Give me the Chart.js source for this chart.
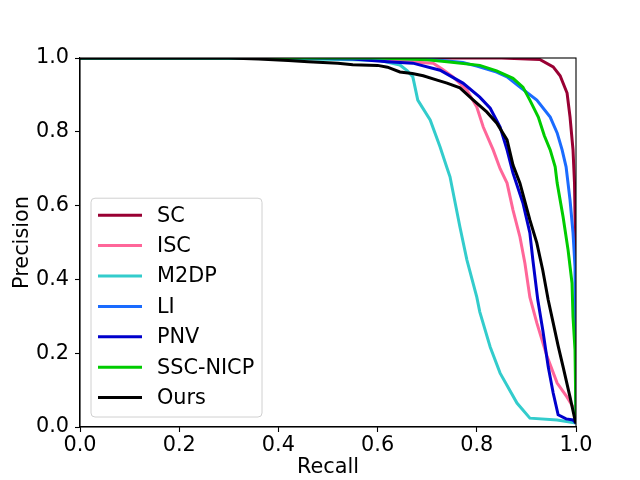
<!DOCTYPE html>
<html>
<head>
<meta charset="utf-8">
<script src="https://cdn.jsdelivr.net/npm/chart.js@4.4.1/dist/chart.umd.min.js"></script>
<style>
  html, body { margin: 0; padding: 0; background: #fff; }
</style>
</head>
<body>
<canvas id="pr-chart" width="640" height="480"></canvas>
<script>
// ── Data ─────────────────────────────────────────────────────────
const seriesNames  = ['SC', 'ISC', 'M2DP', 'LI', 'PNV', 'SSC-NICP', 'Ours'];
const seriesColors = ['#990033', '#ff6699', '#33cccc', '#1a6bff', '#0000cc', '#00cc00', '#000000'];
const tickValues   = [0, 0.2, 0.4, 0.6, 0.8, 1.0];

const scRecall      = [0, 0.85, 0.927, 0.954, 0.968, 0.982, 0.988, 0.992, 0.994, 0.997, 0.999, 1.0];
const scPrecision   = [1, 1.0, 0.996, 0.976, 0.952, 0.905, 0.84, 0.78, 0.751, 0.661, 0.5, 0.02];

const iscRecall     = [0, 0.5, 0.6, 0.66, 0.712, 0.73, 0.752, 0.78, 0.80, 0.813, 0.833, 0.847, 0.861, 0.873, 0.887, 0.897, 0.907, 0.921, 0.942, 0.962, 0.982, 0.994, 1.0];
const iscPrecision  = [1, 1.0, 0.995, 0.99, 0.986, 0.97, 0.949, 0.913, 0.867, 0.813, 0.751, 0.70, 0.661, 0.588, 0.515, 0.444, 0.352, 0.282, 0.19, 0.119, 0.081, 0.054, 0.03];

const m2dpRecall    = [0, 0.35, 0.45, 0.55, 0.605, 0.645, 0.66, 0.671, 0.681, 0.706, 0.726, 0.74, 0.746, 0.766, 0.78, 0.80, 0.806, 0.827, 0.847, 0.881, 0.907, 0.962, 1.0];
const m2dpPrecision = [1, 1.0, 0.997, 0.995, 0.993, 0.981, 0.965, 0.949, 0.886, 0.832, 0.759, 0.702, 0.678, 0.542, 0.453, 0.352, 0.312, 0.217, 0.146, 0.065, 0.024, 0.019, 0.011];

const liRecall      = [0, 0.6, 0.7, 0.772, 0.80, 0.84, 0.861, 0.887, 0.921, 0.948, 0.962, 0.972, 0.98, 0.988, 0.994, 0.998, 0.999, 1.0];
const liPrecision   = [1, 1.0, 0.997, 0.988, 0.978, 0.962, 0.949, 0.921, 0.886, 0.84, 0.797, 0.751, 0.705, 0.615, 0.526, 0.434, 0.25, 0.02];

const pnvRecall     = [0, 0.45, 0.55, 0.62, 0.671, 0.726, 0.772, 0.806, 0.827, 0.847, 0.861, 0.873, 0.893, 0.907, 0.913, 0.923, 0.933, 0.944, 0.954, 0.964, 0.98, 0.994, 1.0];
const pnvPrecision  = [1, 1.0, 0.997, 0.99, 0.986, 0.967, 0.932, 0.894, 0.864, 0.813, 0.751, 0.688, 0.607, 0.526, 0.453, 0.344, 0.263, 0.163, 0.092, 0.033, 0.022, 0.019, 0.01];

const sscRecall     = [0, 0.6, 0.7, 0.74, 0.806, 0.84, 0.873, 0.893, 0.907, 0.924, 0.936, 0.948, 0.958, 0.962, 0.974, 0.984, 0.992, 0.994, 0.998, 1.0];
const sscPrecision  = [1, 1.0, 0.995, 0.99, 0.98, 0.965, 0.945, 0.921, 0.886, 0.84, 0.79, 0.751, 0.705, 0.661, 0.569, 0.48, 0.39, 0.298, 0.209, 0.02];

const oursRecall    = [0, 0.30, 0.36, 0.42, 0.46, 0.52, 0.55, 0.60, 0.62, 0.645, 0.67, 0.692, 0.72, 0.74, 0.766, 0.793, 0.82, 0.84, 0.861, 0.873, 0.887, 0.907, 0.921, 0.933, 0.944, 0.954, 0.964, 0.974, 0.988, 0.998, 1.0];
const oursPrecision = [1, 1.0, 0.997, 0.993, 0.99, 0.986, 0.982, 0.98, 0.975, 0.962, 0.958, 0.952, 0.94, 0.932, 0.919, 0.886, 0.854, 0.824, 0.778, 0.71, 0.661, 0.561, 0.499, 0.425, 0.344, 0.282, 0.22, 0.163, 0.081, 0.019, 0.01];

const recallSets    = [scRecall, iscRecall, m2dpRecall, liRecall, pnvRecall, sscRecall, oursRecall];
const precisionSets = [scPrecision, iscPrecision, m2dpPrecision, liPrecision, pnvPrecision, sscPrecision, oursPrecision];

const FONT = { family: "'DejaVu Sans', sans-serif", size: 20.8 };

// kotak hitam di sekeliling area plot (gaya matplotlib)
const frameBox = {
    id: 'frameBox',
    afterDatasetsDraw(chart) {
        const { ctx, chartArea: a } = chart;
        ctx.save();
        ctx.strokeStyle = '#000';
        ctx.lineWidth = 1.1;
        ctx.strokeRect(a.left, a.top, a.right - a.left, a.bottom - a.top);
        ctx.restore();
    }
};

// legenda di dalam area plot, kiri bawah
const insetLegend = {
    id: 'insetLegend',
    afterDraw(chart) {
        const { ctx, chartArea: a } = chart;
        const sets = chart.data.datasets;
        const rowH = 30.4;
        const boxX = a.left + 11, boxW = 171;
        const boxH = sets.length * rowH + 6;
        const boxY = a.bottom - 10 - boxH;
        ctx.save();
        ctx.beginPath();
        ctx.roundRect(boxX, boxY, boxW, boxH, 4);
        ctx.fillStyle = 'rgba(255,255,255,0.8)';
        ctx.fill();
        ctx.strokeStyle = '#d0d0d0';
        ctx.lineWidth = 1;
        ctx.stroke();
        ctx.font = `${FONT.size}px ${FONT.family}`;
        ctx.textBaseline = 'middle';
        ctx.fillStyle = '#000';
        sets.forEach((ds, i) => {
            const y = boxY + 17 + i * rowH;
            ctx.beginPath();
            ctx.moveTo(boxX + 7, y);
            ctx.lineTo(boxX + 51, y);
            ctx.strokeStyle = ds.borderColor;
            ctx.lineWidth = 3;
            ctx.stroke();
            ctx.fillText(ds.label, boxX + 66, y + 1);
        });
        ctx.restore();
    }
};

const datasets = seriesNames.map((name, i) => ({
    label: name,
    data: recallSets[i].map((r, j) => ({ x: r, y: precisionSets[i][j] })),
    borderColor: seriesColors[i],
    backgroundColor: seriesColors[i],
    borderWidth: 3,
    pointRadius: 0,
    showLine: true,
    tension: 0,
    order: seriesNames.length - i,
}));

const axisCommon = {
    type: 'linear',
    min: 0, max: 1,
    afterBuildTicks: (scale) => { scale.ticks = tickValues.map(v => ({ value: v })); },
    grid: { display: true, drawOnChartArea: false, drawTicks: true, tickLength: 5, tickColor: '#000', tickWidth: 1.1 },
    border: { display: true, color: '#000', width: 1.1 },
};

new Chart(document.getElementById('pr-chart'), {
    type: 'scatter',
    data: { datasets },
    plugins: [frameBox, insetLegend],
    options: {
        responsive: false,
        animation: false,
        devicePixelRatio: 1,
        layout: { padding: { top: 58, right: 64, left: 0, bottom: 0 } },
        plugins: { legend: { display: false }, tooltip: { enabled: false } },
        scales: {
            x: {
                ...axisCommon,
                position: 'bottom',
                afterFit: (scale) => { scale.height = 53; },
                ticks: { font: FONT, color: '#000', padding: 1, maxRotation: 0, callback: v => v.toFixed(1) },
                title: { display: true, text: 'Recall', font: FONT, color: '#000', padding: { top: 0, bottom: 0 } },
            },
            y: {
                ...axisCommon,
                position: 'left',
                afterFit: (scale) => { scale.width = 80; },
                ticks: { font: FONT, color: '#000', padding: 6, callback: v => v.toFixed(1) },
                title: { display: true, text: 'Precision', font: FONT, color: '#000', padding: { top: 10, bottom: 0 } },
            }
        }
    }
});
</script>
</body>
</html>
